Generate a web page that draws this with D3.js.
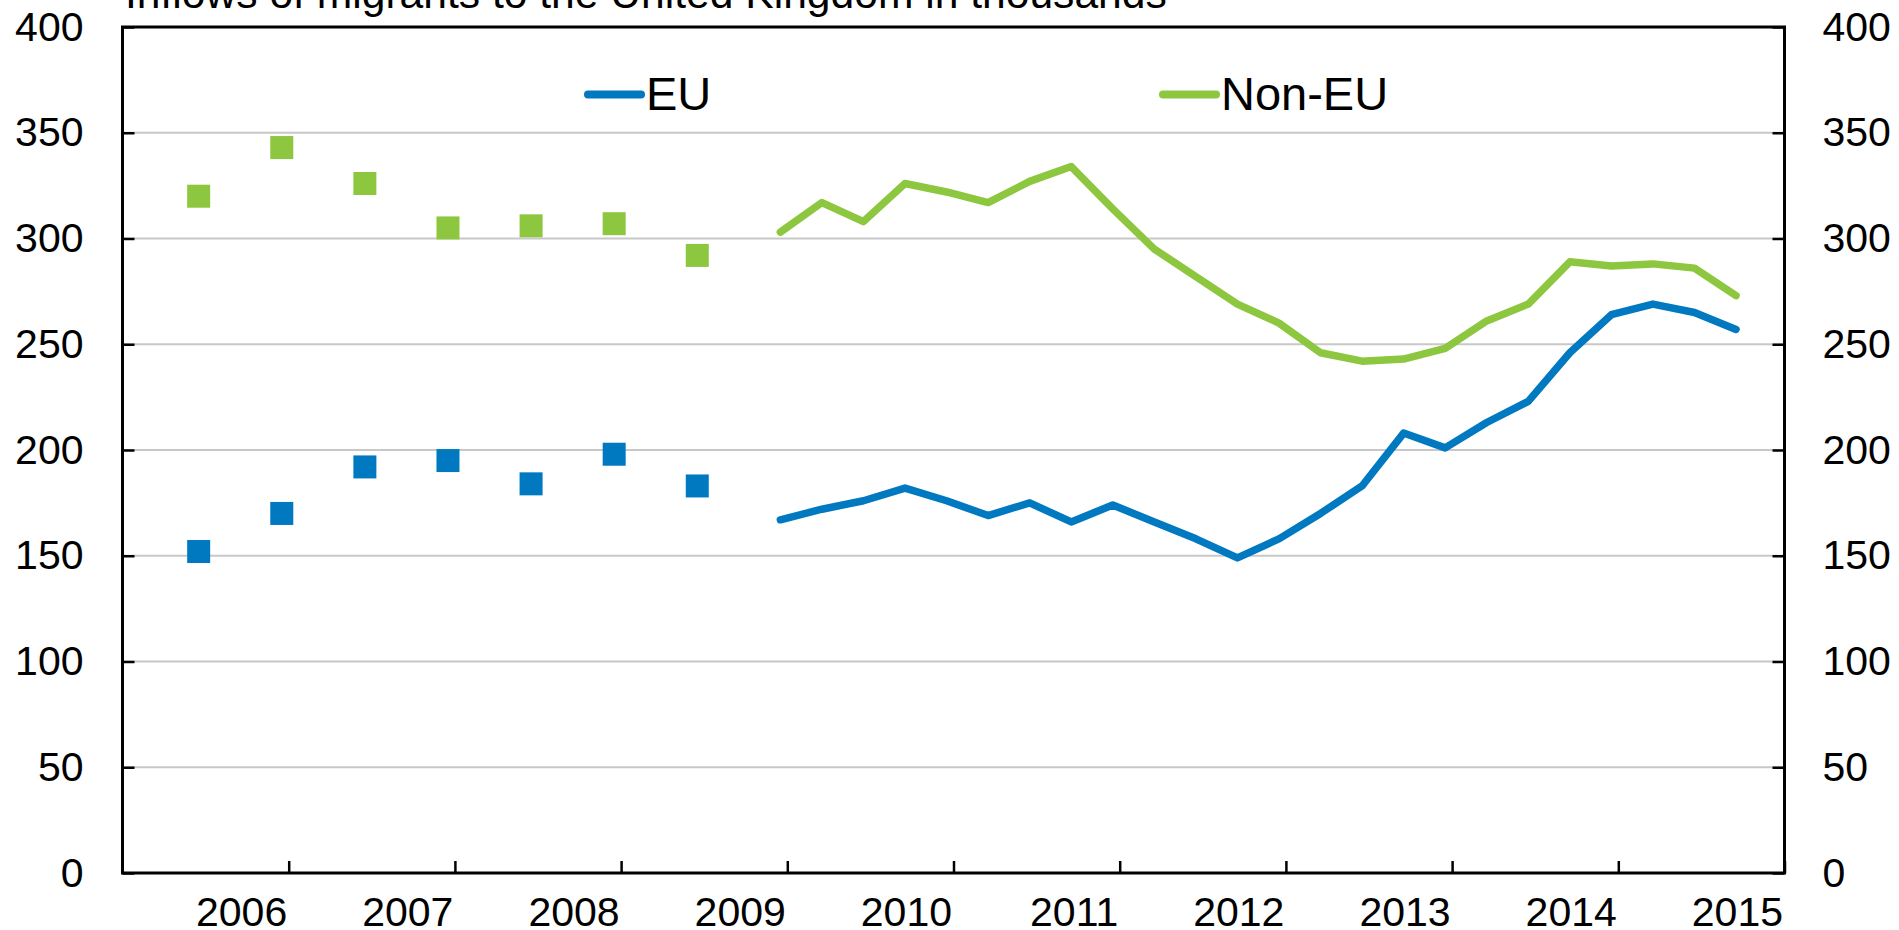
<!DOCTYPE html>
<html>
<head>
<meta charset="utf-8">
<script src="https://cdn.jsdelivr.net/npm/d3@7"></script>
<style>
  body { margin: 0; background: #fff; }
  text { font-family: "Liberation Sans", Arial, sans-serif; fill: #000; }
</style>
</head>
<body>
<div id="chart"></div>
<script>
// six-monthly estimates (squares), then quarterly rolling estimates (lines)
var pointDates = ["2006-06", "2006-12", "2007-06", "2007-12", "2008-06", "2008-12", "2009-06"];
var euPoints = [152, 170, 192, 195, 184, 198, 183];
var nonEuPoints = [320, 343, 326, 305, 306, 307, 292];

var lineDates = ["2009-12", "2010-03", "2010-06", "2010-09", "2010-12", "2011-03", "2011-06", "2011-09",
  "2011-12", "2012-03", "2012-06", "2012-09", "2012-12", "2013-03", "2013-06", "2013-09",
  "2013-12", "2014-03", "2014-06", "2014-09", "2014-12", "2015-03", "2015-06", "2015-09"];
var euLine = [167, 172, 176, 182, 176, 169, 175, 166, 174, 166, 158, 149,
  158, 170, 183, 208, 201, 213, 223, 246, 264, 269, 265, 257];
var nonEuLine = [303, 317, 308, 326, 322, 317, 327, 334, 314, 295, 282, 269,
  260, 246, 242, 243, 248, 261, 269, 289, 287, 288, 286, 273];

var years = [2006, 2007, 2008, 2009, 2010, 2011, 2012, 2013, 2014, 2015];
var yTicks = [0, 50, 100, 150, 200, 250, 300, 350, 400];
var seriesNames = ["EU", "Non-EU"];
var colors = ["#0079c1", "#8dc63f"];
var title = "Inflows of migrants to the United Kingdom in thousands";

var width = 1899, height = 930;
// plot box (named so they don't clash with window.top)
var plotL = 122.5, plotR = 1784.5, plotT = 27, plotB = 873;

// month index from Jan 2006, centred in the month (Excel date axis)
function monthPos(s) {
  var p = s.split("-");
  return (+p[0] - 2006) * 12 + (+p[1] - 1) + 0.5;
}

var x = d3.scaleLinear().domain([0, 120]).range([plotL, plotR]);
var y = d3.scaleLinear().domain([0, 400]).range([plotB, plotT]);

var svg = d3.select("#chart").append("svg")
    .attr("width", width)
    .attr("height", height);

// gridlines
svg.append("g").selectAll("line")
    .data(yTicks.filter(function(d) { return d > 0 && d < 400; }))
  .enter().append("line")
    .attr("x1", plotL).attr("x2", plotR)
    .attr("y1", function(d) { return y(d); })
    .attr("y2", function(d) { return y(d); })
    .attr("stroke", "#c8c8c8")
    .attr("stroke-width", 2);

// axes
var xAxis = svg.append("g")
    .attr("transform", "translate(0," + plotB + ")")
    .call(d3.axisBottom(x)
      .tickValues(years.map(function(d) { return (d - 2005) * 12; }))
      .tickSize(-12)
      .tickSizeOuter(0)
      .tickFormat(function(d) { return 2005 + d / 12; }));

var yLeft = svg.append("g")
    .attr("transform", "translate(" + plotL + ",0)")
    .call(d3.axisLeft(y).tickValues(yTicks).tickSize(-12).tickSizeOuter(0).tickPadding(39));
var yRight = svg.append("g")
    .attr("transform", "translate(" + plotR + ",0)")
    .call(d3.axisRight(y).tickValues(yTicks).tickSize(-12).tickSizeOuter(0).tickPadding(38));

[xAxis, yLeft, yRight].forEach(function(g) {
  g.select(".domain").remove();
  g.selectAll(".tick line").attr("stroke", "#000").attr("stroke-width", 2.5);
  g.selectAll("text").style("font-size", "41px").attr("fill", "#000");
});
xAxis.selectAll("text")
    .attr("text-anchor", "end")
    .attr("x", -2)
    .attr("y", 0)
    .attr("dy", 53);

// frame
svg.append("rect")
    .attr("x", plotL).attr("y", plotT)
    .attr("width", plotR - plotL).attr("height", plotB - plotT)
    .attr("fill", "none")
    .attr("stroke", "#000")
    .attr("stroke-width", 3);

// squares
var sq = 23;
[euPoints, nonEuPoints].forEach(function(vals, i) {
  svg.append("g").selectAll("rect")
      .data(vals)
    .enter().append("rect")
      .attr("x", function(d, j) { return x(monthPos(pointDates[j])) - sq / 2; })
      .attr("y", function(d) { return y(d) - sq / 2; })
      .attr("width", sq).attr("height", sq)
      .attr("fill", colors[i]);
});

// lines
var line = d3.line()
    .x(function(d, j) { return x(monthPos(lineDates[j])); })
    .y(function(d) { return y(d); });

[euLine, nonEuLine].forEach(function(vals, i) {
  svg.append("path")
      .datum(vals)
      .attr("d", line)
      .attr("fill", "none")
      .attr("stroke", colors[i])
      .attr("stroke-width", 7.5)
      .attr("stroke-linecap", "round")
      .attr("stroke-linejoin", "round");
});

// legend
var legendX = [585, 1160];
seriesNames.forEach(function(name, i) {
  svg.append("line")
      .attr("x1", legendX[i] + 3).attr("x2", legendX[i] + 56)
      .attr("y1", 94.5).attr("y2", 94.5)
      .attr("stroke", colors[i])
      .attr("stroke-width", 8)
      .attr("stroke-linecap", "round");
  svg.append("text")
      .attr("x", legendX[i] + 61)
      .attr("y", 110)
      .style("font-size", "47px")
      .text(name);
});

// title, partly cut off at the top
svg.append("text")
    .attr("x", 125)
    .attr("y", 8)
    .style("font-size", "42.6px")
    .text(title);
</script>
</body>
</html>
